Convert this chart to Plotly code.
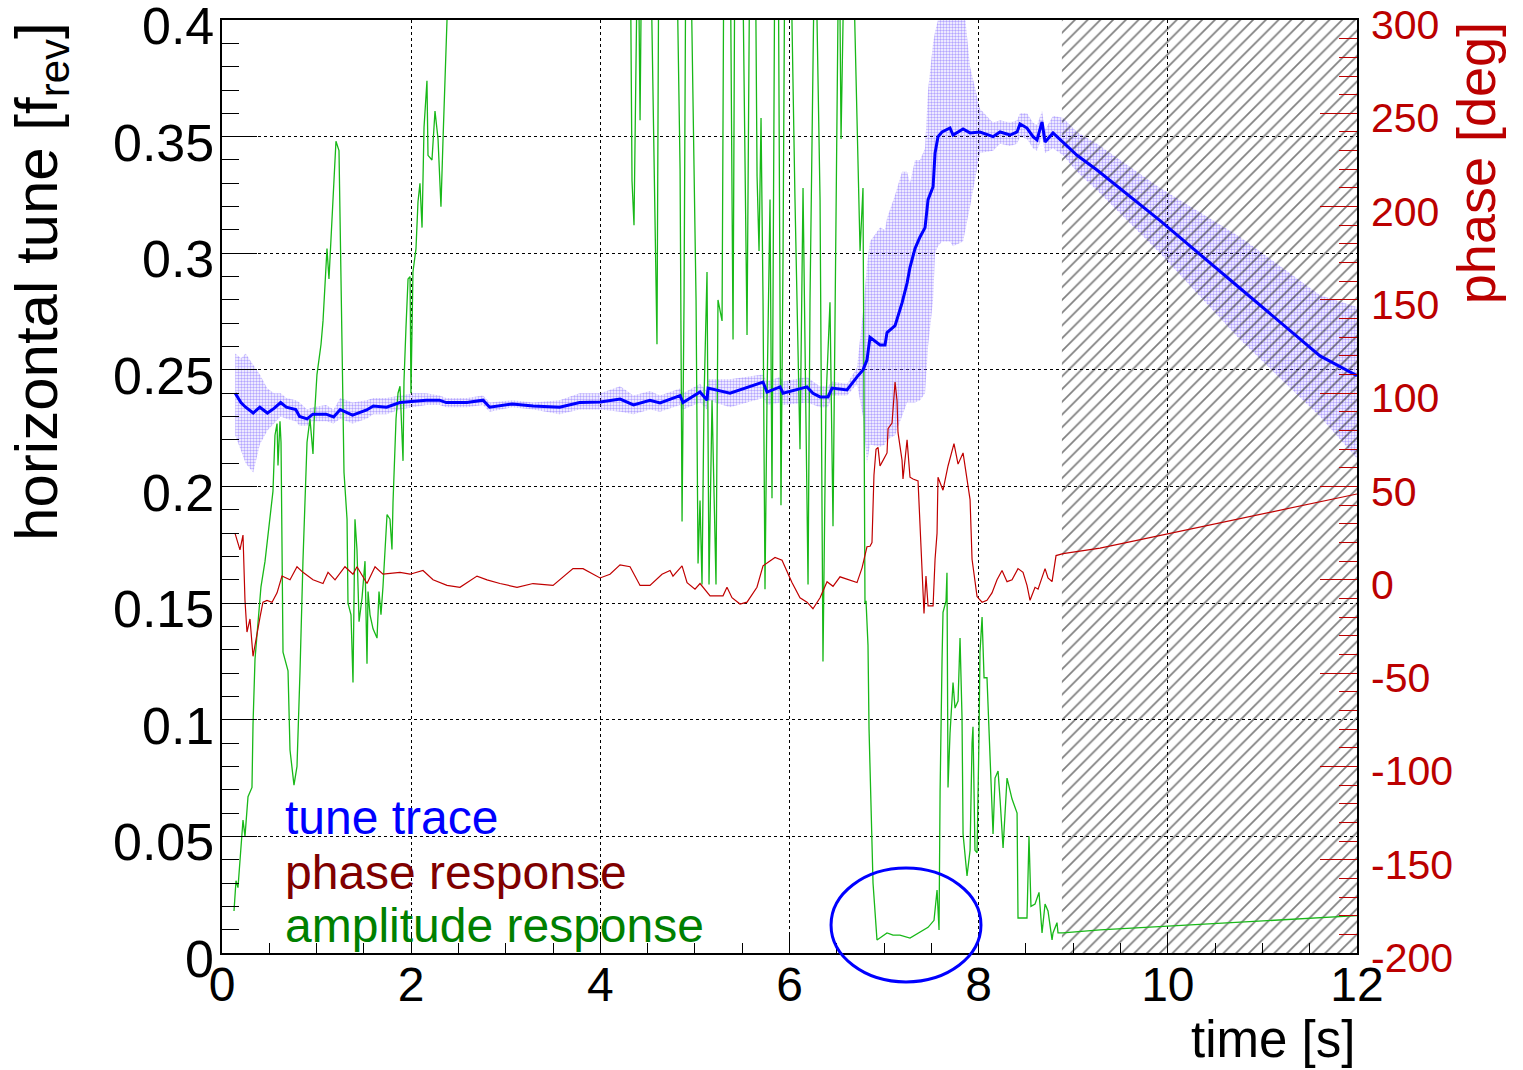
import plotly.graph_objects as go

# ---------------- data ----------------
tune_t = [0.14, 0.2, 0.25, 0.33, 0.4, 0.48, 0.55, 0.62, 0.68, 0.78, 0.82, 0.9, 0.96, 1.1, 1.18, 1.25,
          1.38, 1.53, 1.6, 1.74, 1.88, 2.02, 2.16, 2.3, 2.37, 2.59, 2.76, 2.83, 3.07, 3.29, 3.57, 3.78,
          4.0, 4.21, 4.35, 4.525, 4.631, 4.843, 4.874, 5.054, 5.128, 5.139, 5.371, 5.72, 5.762, 5.9,
          5.932, 6.185, 6.248, 6.323, 6.407, 6.45, 6.608, 6.714, 6.777, 6.819, 6.851, 6.957, 7.01,
          7.031, 7.116, 7.19, 7.243, 7.274, 7.327, 7.38, 7.433, 7.465, 7.518, 7.539, 7.57, 7.613,
          7.697, 7.729, 7.835, 7.909, 8.014, 8.152, 8.226, 8.332, 8.406, 8.437, 8.511, 8.575, 8.617,
          8.67, 8.702, 8.786, 8.892, 9.04, 9.251, 9.918, 10.763, 11.609, 12.0]
tune_v = [0.240, 0.236, 0.234, 0.2315, 0.234, 0.2315, 0.2335, 0.236, 0.234, 0.233, 0.230, 0.229, 0.231,
          0.231, 0.2298, 0.233, 0.2306, 0.2328, 0.2345, 0.234, 0.236, 0.2366, 0.237, 0.237, 0.236, 0.236,
          0.237, 0.234, 0.2354, 0.2345, 0.234, 0.236, 0.2362, 0.2375, 0.235, 0.237, 0.2358, 0.239, 0.236,
          0.2405, 0.237, 0.2422, 0.240, 0.2448, 0.2405, 0.2427, 0.240, 0.2427, 0.240, 0.2384, 0.2384,
          0.2422, 0.2414, 0.247, 0.250, 0.2542, 0.264, 0.2607, 0.2607, 0.266, 0.269, 0.2787, 0.2872,
          0.294, 0.302, 0.307, 0.311, 0.323, 0.3285, 0.343, 0.350, 0.352, 0.3537, 0.3507, 0.3533, 0.3516,
          0.352, 0.350, 0.352, 0.3507, 0.352, 0.3554, 0.3537, 0.350, 0.3486, 0.3563, 0.3477, 0.3516,
          0.3477, 0.342, 0.3357, 0.314, 0.285, 0.256, 0.2475]
tune_lo = [0.222, 0.215, 0.210, 0.206, 0.218, 0.224, 0.227, 0.230, 0.229, 0.228, 0.226, 0.226, 0.228,
           0.228, 0.227, 0.229, 0.227, 0.229, 0.231, 0.231, 0.233, 0.234, 0.235, 0.235, 0.234, 0.234,
           0.235, 0.232, 0.234, 0.233, 0.231, 0.233, 0.233, 0.232, 0.231, 0.233, 0.232, 0.235, 0.233,
           0.236, 0.233, 0.237, 0.234, 0.238, 0.235, 0.236, 0.235, 0.236, 0.235, 0.234, 0.234, 0.239,
           0.239, 0.244, 0.230, 0.210, 0.218, 0.217, 0.218, 0.220, 0.222, 0.230, 0.236, 0.236, 0.236,
           0.237, 0.240, 0.260, 0.280, 0.300, 0.303, 0.305, 0.305, 0.303, 0.305, 0.320, 0.343, 0.344,
           0.347, 0.346, 0.347, 0.350, 0.349, 0.345, 0.344, 0.350, 0.343, 0.345, 0.342, 0.335, 0.327,
           0.300, 0.263, 0.230, 0.212]
tune_hi = [0.257, 0.255, 0.257, 0.252, 0.248, 0.242, 0.240, 0.240, 0.238, 0.237, 0.236, 0.233, 0.234,
           0.235, 0.233, 0.238, 0.236, 0.237, 0.238, 0.238, 0.239, 0.240, 0.240, 0.239, 0.238, 0.238,
           0.239, 0.236, 0.237, 0.236, 0.237, 0.240, 0.240, 0.243, 0.239, 0.241, 0.239, 0.242, 0.240,
           0.244, 0.241, 0.246, 0.246, 0.248, 0.245, 0.247, 0.245, 0.247, 0.245, 0.243, 0.243, 0.245,
           0.244, 0.251, 0.275, 0.295, 0.305, 0.311, 0.310, 0.315, 0.325, 0.335, 0.335, 0.330, 0.340,
           0.340, 0.345, 0.370, 0.390, 0.395, 0.400, 0.400, 0.410, 0.410, 0.410, 0.380, 0.362, 0.356,
           0.357, 0.356, 0.357, 0.360, 0.360, 0.356, 0.355, 0.361, 0.353, 0.359, 0.358, 0.352, 0.347,
           0.328, 0.307, 0.282, 0.277]

phase_t = [0.137, 0.19, 0.222, 0.243, 0.264, 0.296, 0.328, 0.37, 0.402, 0.433, 0.476, 0.529, 0.582, 0.634,
           0.719, 0.793, 0.856, 0.962, 1.068, 1.121, 1.195, 1.3, 1.385, 1.427, 1.533, 1.618, 1.702, 1.882,
           1.988, 2.125, 2.231, 2.379, 2.516, 2.696, 2.802, 2.939, 3.119, 3.288, 3.5, 3.711, 3.817, 3.997,
           4.102, 4.208, 4.314, 4.42, 4.525, 4.652, 4.737, 4.768, 4.864, 4.917, 5.001, 5.054, 5.16, 5.297,
           5.339, 5.392, 5.477, 5.551, 5.656, 5.72, 5.847, 5.921, 6.026, 6.111, 6.185, 6.248, 6.323,
           6.397, 6.46, 6.534, 6.714, 6.767, 6.819, 6.851, 6.872, 6.893, 6.915, 6.936, 6.957, 6.989,
           7.031, 7.042, 7.084, 7.116, 7.137, 7.147, 7.19, 7.2, 7.243, 7.274, 7.306, 7.359, 7.369, 7.401,
           7.422, 7.443, 7.465, 7.518, 7.539, 7.56, 7.57, 7.623, 7.676, 7.739, 7.782, 7.835, 7.877,
           7.909, 7.93, 7.983, 8.036, 8.088, 8.141, 8.194, 8.247, 8.3, 8.353, 8.416, 8.469, 8.511, 8.543,
           8.596, 8.628, 8.702, 8.733, 8.776, 8.818, 8.892, 9.283, 12.0]
phase_v = [25, 16, 24, -11, -28, -21, -41, -28, -20, -12, -11, -12, -7, 2, 0, 7, 4, 0, -2, 4, 0, 7, 3, 7,
           -2, 7, 3, 4, 3, 5, 0, -3, -4, 2, 0, -2, -4, -2, -3, 6, 6, 1, 3, 8, 7, -3, -3, 3, 5, 2, 7.5,
           -1.5, -5, -2, -8.6, -8.6, -4, -9.6, -13, -12, -4, 7.5, 12, 10.5, -1.5, -9.6, -12, -15.5, -9.6,
           -1, -3.5, 1.6, -1.5, 6.4, 17.7, 18, 20, 56, 70, 71, 61, 64, 68, 81, 84, 106, 96, 79, 64, 54,
           75, 55, 54, 53, 43, 4, -18, 2, -14, -14, 11, 25, 55, 48, 61, 73, 62, 68, 55, 43, 11, -9, -12,
           -11, -7, 0, 5, -1, 0, 6, 4, -3, -11, -4, -5, 6, 1, -1, 13, 14, 17, 46]

amp_t = [0.127, 0.148, 0.169, 0.201, 0.222, 0.243, 0.275, 0.317, 0.328, 0.349, 0.381, 0.412, 0.455, 0.486,
         0.518, 0.539, 0.560, 0.582, 0.592, 0.613, 0.624, 0.645, 0.698, 0.719, 0.761, 0.793, 0.825, 0.856,
         0.899, 0.930, 0.962, 0.973, 1.004, 1.047, 1.068, 1.100, 1.110, 1.131, 1.174, 1.205, 1.237, 1.269,
         1.290, 1.322, 1.332, 1.364, 1.385, 1.406, 1.427, 1.449, 1.480, 1.512, 1.533, 1.544, 1.565, 1.597,
         1.639, 1.660, 1.681, 1.702, 1.745, 1.776, 1.797, 1.808, 1.840, 1.861, 1.882, 1.914, 1.924, 1.945,
         1.967, 1.988, 1.998, 2.019, 2.051, 2.072, 2.093, 2.115, 2.136, 2.167, 2.178, 2.220, 2.252, 2.284,
         2.315, 2.337, 2.358, 2.379, 2.6, 3.2, 3.8, 4.25,
         4.314, 4.335, 4.356, 4.377, 4.398, 4.420, 4.441, 4.525, 4.578, 4.599, 4.620, 4.716, 4.800, 4.843,
         4.864, 4.885, 4.906, 4.948, 5.012, 5.033, 5.054, 5.075, 5.096, 5.128, 5.149, 5.181, 5.223, 5.244,
         5.287, 5.308, 5.371, 5.403, 5.424, 5.498, 5.530, 5.551, 5.583, 5.636, 5.657, 5.678, 5.699, 5.720,
         5.741, 5.762, 5.794, 5.815, 5.847, 5.879, 5.910, 5.932, 5.953, 6.005, 6.058, 6.111, 6.143, 6.175,
         6.196, 6.217, 6.238, 6.270, 6.323, 6.354, 6.386, 6.428, 6.460, 6.492, 6.524, 6.545, 6.587, 6.661,
         6.724, 6.746, 6.777, 6.798, 6.809, 6.830,
         6.841, 6.862, 6.883, 6.925, 7.031, 7.095, 7.168, 7.274, 7.380, 7.465, 7.528, 7.560, 7.581, 7.592,
         7.613, 7.623, 7.655, 7.665, 7.676, 7.697, 7.729, 7.750, 7.782, 7.803, 7.824, 7.835, 7.877, 7.909,
         7.930, 7.940, 7.961, 7.983, 8.004, 8.014, 8.036, 8.057, 8.088, 8.120, 8.152, 8.173, 8.205, 8.226,
         8.258, 8.300, 8.353, 8.406, 8.416, 8.511, 8.532, 8.553, 8.596, 8.638, 8.670, 8.702, 8.733, 8.776,
         8.786, 8.828, 8.839, 8.892, 9.283, 12.0]
amp_v = [0.018, 0.031, 0.028, 0.044, 0.057, 0.050, 0.067, 0.071, 0.098, 0.126, 0.142, 0.157, 0.168, 0.179,
         0.191, 0.198, 0.222, 0.227, 0.209, 0.228, 0.219, 0.129, 0.121, 0.087, 0.072, 0.080, 0.121, 0.168,
         0.219, 0.229, 0.214, 0.227, 0.248, 0.261, 0.271, 0.297, 0.302, 0.289, 0.322, 0.348, 0.344, 0.250,
         0.206, 0.186, 0.150, 0.145, 0.116, 0.186, 0.173, 0.142, 0.152, 0.168, 0.124, 0.155, 0.145, 0.139,
         0.135, 0.155, 0.145, 0.157, 0.188, 0.186, 0.173, 0.193, 0.229, 0.240, 0.243, 0.211, 0.245, 0.268,
         0.289, 0.290, 0.240, 0.292, 0.302, 0.322, 0.330, 0.311, 0.354, 0.374, 0.342, 0.340, 0.361, 0.349,
         0.320, 0.349, 0.379, 0.400, 0.48, 0.55, 0.52, 0.47,
         0.45, 0.331, 0.312, 0.383, 0.45, 0.357, 0.45, 0.45, 0.323, 0.261, 0.45, 0.45, 0.45, 0.336,
         0.185, 0.280, 0.45, 0.45, 0.280, 0.167, 0.194, 0.158, 0.237, 0.292, 0.158, 0.237, 0.158, 0.280,
         0.271, 0.45, 0.45, 0.263, 0.45, 0.45, 0.323, 0.265, 0.45, 0.45, 0.333, 0.301, 0.358, 0.280,
         0.156, 0.237, 0.323, 0.195, 0.45, 0.45, 0.192, 0.301, 0.45, 0.45, 0.323, 0.216, 0.328, 0.237,
         0.158, 0.280, 0.333, 0.45, 0.323, 0.125, 0.237, 0.279, 0.183, 0.323, 0.45, 0.349, 0.45, 0.45,
         0.333, 0.301, 0.328, 0.150, 0.151, 0.132,
         0.096, 0.057, 0.030, 0.0056, 0.0086, 0.0077, 0.0077, 0.0064, 0.009, 0.011, 0.014, 0.027, 0.0099, 0.069,
         0.126, 0.146, 0.151, 0.163, 0.071, 0.094, 0.116, 0.105, 0.108, 0.135, 0.101, 0.051, 0.033, 0.044,
         0.090, 0.097, 0.044, 0.043, 0.094, 0.129, 0.144, 0.118, 0.118, 0.086, 0.051, 0.075, 0.078, 0.066,
         0.045, 0.075, 0.066, 0.060, 0.015, 0.015, 0.050, 0.020, 0.021, 0.026, 0.0086, 0.021, 0.018, 0.0056,
         0.0086, 0.013, 0.0086, 0.0086, 0.0099, 0.016]

hatch_t = [8.88, 12.0]          # extrapolated (no-data) region
tune_range = [0, 0.4]
phase_range = [-200, 300]
tune_ticks = [0, 0.05, 0.1, 0.15, 0.2, 0.25, 0.3, 0.35, 0.4]
tune_ticktext = ["0", "0.05", "0.1", "0.15", "0.2", "0.25", "0.3", "0.35", "0.4"]
phase_ticks = [-200, -150, -100, -50, 0, 50, 100, 150, 200, 250, 300]
phase_ticktext = ["-200", "-150", "-100", "-50", "0", "50", "100", "150", "200", "250", "300"]
legend_labels = ["tune trace", "phase response", "amplitude response"]

FONT = "Arial, 'Liberation Sans', Helvetica, sans-serif"
RED = "#bb0000"

fig = go.Figure()

# error band of tune trace
fig.add_trace(go.Scatter(x=tune_t, y=tune_lo, mode="lines", line=dict(width=0),
                         showlegend=False, hoverinfo="skip"))
fig.add_trace(go.Scatter(x=tune_t, y=tune_hi, mode="lines", line=dict(width=0), fill="tonexty",
                         fillcolor="rgba(140,110,255,0.40)",
                         fillpattern=dict(shape=".", fgcolor="#6a4cff", bgcolor="rgba(0,0,0,0)",
                                          size=3, solidity=0.5, fillmode="overlay"),
                         showlegend=False, hoverinfo="skip"))

# hatched region
fig.add_trace(go.Scatter(x=[hatch_t[0], hatch_t[1], hatch_t[1], hatch_t[0], hatch_t[0]],
                         y=[tune_range[0], tune_range[0], tune_range[1], tune_range[1], tune_range[0]],
                         mode="lines", line=dict(width=0), fill="toself",
                         fillcolor="rgba(0,0,0,0)",
                         fillpattern=dict(shape="/", fgcolor="#000000", bgcolor="rgba(0,0,0,0)",
                                          size=9, solidity=0.19, fillmode="overlay"),
                         showlegend=False, hoverinfo="skip"))

# amplitude
fig.add_trace(go.Scatter(x=amp_t, y=amp_v, mode="lines", line=dict(color="#18b818", width=1.3),
                         showlegend=False))
# phase
fig.add_trace(go.Scatter(x=phase_t, y=phase_v, mode="lines", yaxis="y2",
                         line=dict(color="#c00000", width=1.2), showlegend=False))
# tune
fig.add_trace(go.Scatter(x=tune_t, y=tune_v, mode="lines", line=dict(color="#0000ff", width=3),
                         showlegend=False))

fig.update_layout(
    width=1523, height=1070,
    margin=dict(l=222, r=166, t=20, b=117),
    paper_bgcolor="white", plot_bgcolor="white",
    font=dict(family=FONT, color="black"),
    xaxis=dict(range=[0, 12], dtick=2, ticks="inside", ticklen=20, tickwidth=1, tickcolor="black",
               showline=True, linecolor="black", linewidth=1.5, mirror=True, automargin=False,
               showgrid=True, gridcolor="black", griddash="dot", gridwidth=1, zeroline=False,
               tickfont=dict(size=48, family=FONT), ticklabelstandoff=-11,
               ticklabeloverflow="allow",
               minor=dict(dtick=0.5, ticks="inside", ticklen=10, tickcolor="black", showgrid=False)),
    yaxis=dict(range=[tune_range[0], tune_range[1] + 1e-5], tickmode="array", tickvals=tune_ticks,
               showticklabels=False, ticks="inside", ticklen=35, tickwidth=1, tickcolor="black",
               showline=True, linecolor="black", linewidth=1.5, automargin=False,
               showgrid=True, gridcolor="black", griddash="dot", gridwidth=1, zeroline=False,
               minor=dict(tickmode="linear", tick0=0, dtick=0.01, ticks="inside", ticklen=17,
                          tickcolor="black", showgrid=False)),
    yaxis2=dict(range=[phase_range[0], phase_range[1] + 0.01], overlaying="y", side="right",
                tickmode="array", tickvals=phase_ticks, showticklabels=False,
                ticks="inside", ticklen=37, tickwidth=1, tickcolor=RED, automargin=False,
                showline=True, linecolor="black", linewidth=2,
                showgrid=False, zeroline=False,
                minor=dict(tickmode="linear", tick0=-200, dtick=10, ticks="inside", ticklen=18,
                           tickcolor=RED, showgrid=False)),
)

# y tick labels (ROOT places them slightly below the tick)
for v, txt in zip(tune_ticks, tune_ticktext):
    fig.add_annotation(text=txt, xref="paper", yref="y", x=0, y=v, xanchor="right", yanchor="middle",
                       xshift=-6, yshift=-6, showarrow=False, font=dict(size=52, family=FONT, color="black"))
for v, txt in zip(phase_ticks, phase_ticktext):
    fig.add_annotation(text=txt, xref="paper", yref="y2", x=1, y=v, xanchor="left", yanchor="middle",
                       xshift=12, yshift=-5, showarrow=False, font=dict(size=41, family=FONT, color=RED))

# axis titles (ROOT style: aligned at axis ends)
fig.add_annotation(text="horizontal tune [f<sub>rev</sub>]", textangle=-90, xref="paper", yref="paper",
                   x=-0.160, y=1.0, xanchor="center", yanchor="top", showarrow=False,
                   font=dict(size=60, family=FONT, color="black"))
fig.add_annotation(text="time [s]", xref="paper", yref="paper", x=1.0, y=-0.093,
                   xanchor="right", yanchor="middle", showarrow=False,
                   font=dict(size=51, family=FONT, color="black"))
fig.add_annotation(text="phase [deg]", textangle=-90, xref="paper", yref="paper", x=1.105, y=1.0,
                   xanchor="center", yanchor="top", showarrow=False,
                   font=dict(size=54, family=FONT, color=RED))

# legend texts
leg_colors = ["#0000ff", "#800000", "#008000"]
leg_y = [0.1447, 0.0868, 0.030]
for lab, col, yy in zip(legend_labels, leg_colors, leg_y):
    fig.add_annotation(text=lab, xref="paper", yref="paper", x=0.0535, y=yy, xanchor="left",
                       yanchor="middle", showarrow=False, font=dict(size=48, family=FONT, color=col))

# highlight ellipse
fig.add_shape(type="circle", xref="paper", yref="paper", x0=0.5366, x1=0.6687, y0=-0.031, y1=0.091,
              line=dict(color="#0000ff", width=3))

fig.write_html("out.html", config={"displayModeBar": False},
               post_script="document.body.style.margin='0px';document.body.style.overflow='hidden';")
